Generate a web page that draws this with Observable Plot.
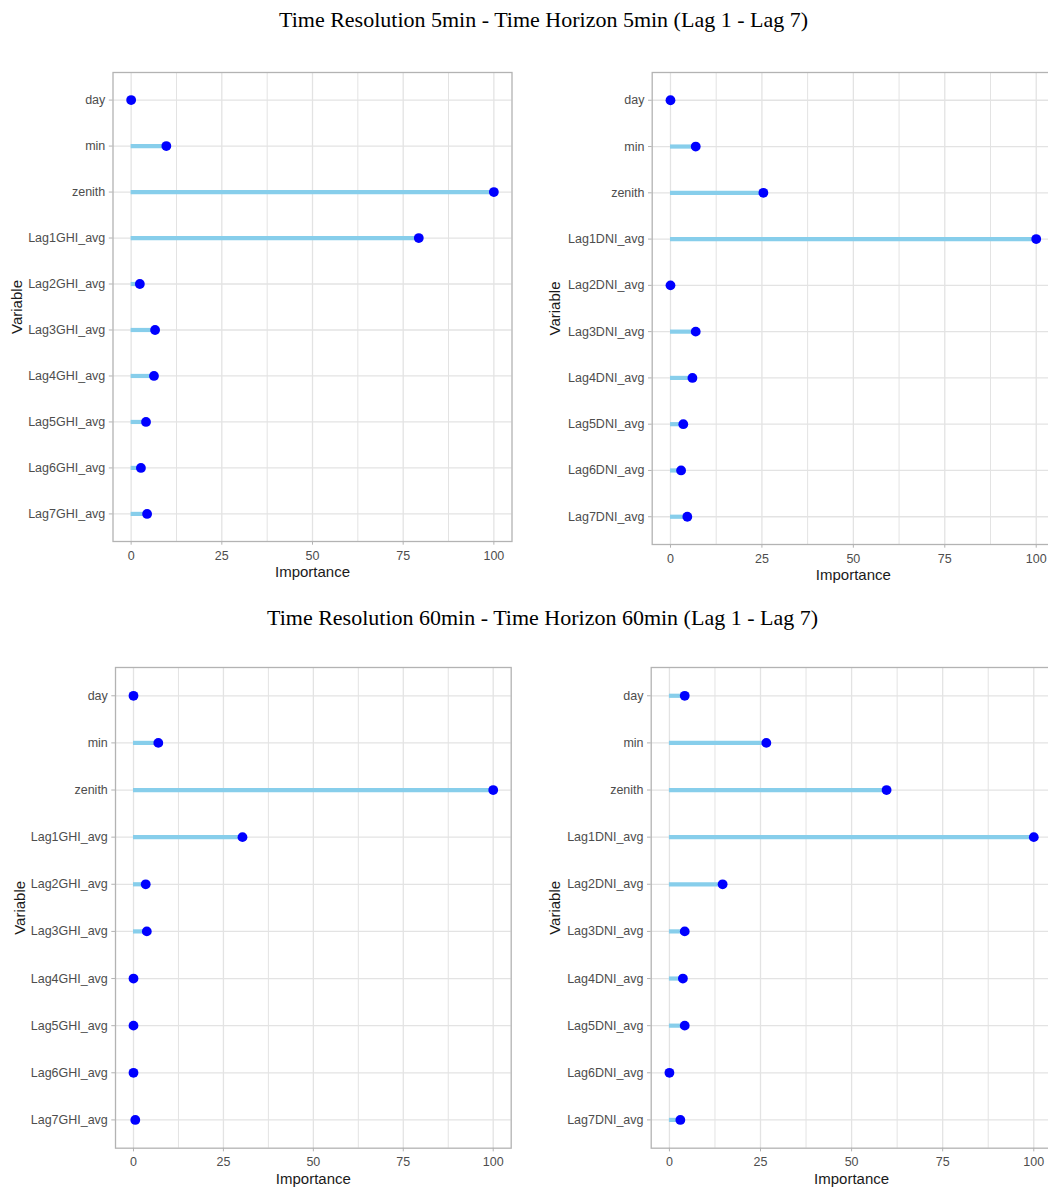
<!DOCTYPE html>
<html><head><meta charset="utf-8">
<script src="https://cdn.jsdelivr.net/npm/d3@7"></script>
<script src="https://cdn.jsdelivr.net/npm/@observablehq/plot@0.6"></script>
<style>
html,body{margin:0;padding:0;background:#fff;overflow:hidden;width:1048px;height:1190px;}
#root{position:relative;width:1048px;height:1190px;overflow:hidden;}
.title{position:absolute;white-space:nowrap;transform:translateX(-50%);font-family:"Liberation Serif","Times New Roman",serif;font-size:22px;line-height:22px;color:#000;}
.panel{position:absolute;}
.panel svg{display:block;overflow:hidden;max-width:none !important;}
</style></head><body><div id="root"></div>
<script>
// ---- data ----
const variablesGHI = ["day","min","zenith","Lag1GHI_avg","Lag2GHI_avg","Lag3GHI_avg","Lag4GHI_avg","Lag5GHI_avg","Lag6GHI_avg","Lag7GHI_avg"];
const variablesDNI = ["day","min","zenith","Lag1DNI_avg","Lag2DNI_avg","Lag3DNI_avg","Lag4DNI_avg","Lag5DNI_avg","Lag6DNI_avg","Lag7DNI_avg"];
const importanceGHI5 = [0, 9.7, 100, 79.3, 2.4, 6.6, 6.3, 4.1, 2.7, 4.4];
const importanceDNI5 = [0, 6.9, 25.4, 100, 0, 6.9, 6.0, 3.5, 2.9, 4.6];
const importanceGHI60 = [0, 6.9, 100, 30.3, 3.4, 3.7, 0, 0, 0, 0.5];
const importanceDNI60 = [4.2, 26.6, 59.6, 100, 14.6, 4.2, 3.7, 4.2, 0, 3.0];
const xTicks = [0, 25, 50, 75, 100];
const xMinorTicks = [12.5, 37.5, 62.5, 87.5];
const titles = ["Time Resolution 5min - Time Horizon 5min (Lag 1 - Lag 7)",
                "Time Resolution 60min - Time Horizon 60min (Lag 1 - Lag 7)"];
const xLabel = "Importance";
const yLabel = "Variable";

// ---- layout ----
const root = document.getElementById("root");
function addTitle(text, cx, top) {
  const d = document.createElement("div");
  d.className = "title";
  d.textContent = text;
  d.style.left = cx + "px";
  d.style.top = top + "px";
  root.appendChild(d);
}
addTitle(titles[0], 543.5, 8.5);
addTitle(titles[1], 542.5, 606.5);

function panel({vars, vals, left, svgWidth, frameLeft, frameRight, frameTop, frameBottom, yLabelX}) {
  const data = vars.map((v, i) => ({variable: v, importance: vals[i]}));
  const mt = 6, mb = 46;
  const ml = frameLeft - left;
  const mr = svgWidth - (frameRight - left);
  const grid = "#e3e3e3";
  const chart = Plot.plot({
    width: svgWidth,
    height: (frameBottom - frameTop) + mt + mb,
    marginTop: mt, marginBottom: mb, marginLeft: ml, marginRight: mr,
    style: {fontFamily: "'Liberation Sans', Arial, sans-serif", fontSize: "12.5px", color: "#4d4d4d", background: "#fff", maxWidth: "none"},
    x: {domain: [-5, 105]},
    y: {type: "point", domain: vars, padding: 0.6, round: false},
    marks: [
      Plot.gridX(xMinorTicks, {stroke: grid, strokeOpacity: 1, strokeWidth: 1}),
      Plot.gridX(xTicks, {stroke: grid, strokeOpacity: 1, strokeWidth: 1.3}),
      Plot.gridY(vars, {stroke: grid, strokeOpacity: 1, strokeWidth: 1.3}),
      Plot.ruleY(data, {y: "variable", x1: () => 0, x2: "importance", stroke: "#87CEEB", strokeWidth: 4.2}),
      Plot.dot(data, {y: "variable", x: "importance", r: 4.9, fill: "#0000ff"}),
      Plot.frame({stroke: "#b3b3b3", strokeWidth: 1.3}),
      Plot.axisX({ticks: xTicks, tickSize: 3.7, tickPadding: 5.5, stroke: "#b3b3b3", fill: "#4d4d4d", label: null, tickFormat: d => String(d)}),
      Plot.axisY({tickSize: 3.7, tickPadding: 4, stroke: "#b3b3b3", fill: "#4d4d4d", label: null}),
      Plot.text([xLabel], {frameAnchor: "bottom", lineAnchor: "middle", textAnchor: "middle", dy: 31, fontSize: 15, fill: "#1a1a1a"}),
      Plot.text([yLabel], {frameAnchor: "left", lineAnchor: "middle", textAnchor: "middle", rotate: -90, dx: -(frameLeft - yLabelX), fontSize: 15, fill: "#1a1a1a"})
    ]
  });
  const wrap = document.createElement("div");
  wrap.className = "panel";
  wrap.style.left = left + "px";
  wrap.style.top = (frameTop - mt) + "px";
  wrap.style.width = svgWidth + "px";
  wrap.appendChild(chart);
  root.appendChild(wrap);
}

panel({vars: variablesGHI, vals: importanceGHI5, left: 0, svgWidth: 524,
       frameLeft: 112.5, frameRight: 511.5, frameTop: 72, frameBottom: 541, yLabelX: 17});
panel({vars: variablesDNI, vals: importanceDNI5, left: 530, svgWidth: 530,
       frameLeft: 651.7, frameRight: 1054, frameTop: 72, frameBottom: 544, yLabelX: 555});
panel({vars: variablesGHI, vals: importanceGHI60, left: 0, svgWidth: 524,
       frameLeft: 115, frameRight: 510.7, frameTop: 667.3, frameBottom: 1148, yLabelX: 20});
panel({vars: variablesDNI, vals: importanceDNI60, left: 530, svgWidth: 530,
       frameLeft: 650.7, frameRight: 1051.5, frameTop: 667.3, frameBottom: 1148, yLabelX: 555});
</script>
</body></html>
